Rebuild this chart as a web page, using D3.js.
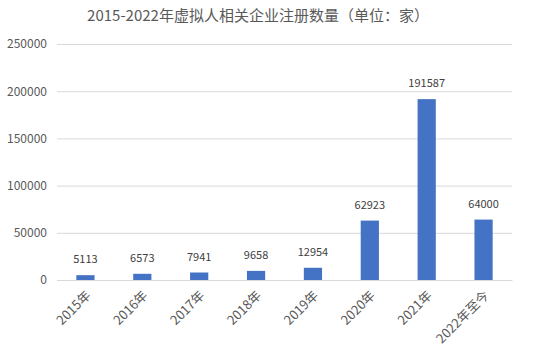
<!DOCTYPE html>
<html><head><meta charset="utf-8">
<script src="https://cdn.jsdelivr.net/npm/d3@7"></script>
<style>body{margin:0;background:#fff;} svg{display:block;}</style>
</head><body>
<script>
const title = "2015-2022年虚拟人相关企业注册数量（单位：家）";
const categories = ["2015年","2016年","2017年","2018年","2019年","2020年","2021年","2022年至今"];
const values = [5113,6573,7941,9658,12954,62923,191587,64000];
const yTicks = [0,50000,100000,150000,200000,250000];

const W=538,H=356;
const m={l:57,r:26,t:44,b:76};
const svg=d3.select("body").append("svg").attr("width",W).attr("height",H);
const font="'Noto Sans CJK SC','Noto Sans',sans-serif";
const x=d3.scaleBand().domain(categories).range([m.l,W-m.r]).paddingInner(0.68).paddingOuter(0.34);
const y=d3.scaleLinear().domain([0,250000]).range([H-m.b,m.t]);

svg.append("text").attr("x",258).attr("y",21).attr("text-anchor","middle")
  .attr("font-family",font).attr("font-size",15).attr("fill","#595959").text(title);

const ga=svg.append("g").attr("transform",`translate(${m.l},0)`)
  .call(d3.axisLeft(y).tickValues(yTicks).tickSize(-(W-m.l-m.r)).tickPadding(10).tickFormat(d3.format("d")));
ga.select(".domain").remove();
ga.selectAll("line").attr("stroke","#d9d9d9");
ga.selectAll("text").attr("font-family",font).attr("font-size",12).attr("fill","#595959");

svg.selectAll("rect.bar").data(values).join("rect").attr("class","bar")
  .attr("x",(d,i)=>x(categories[i])).attr("width",x.bandwidth())
  .attr("y",d=>y(d)).attr("height",d=>y(0)-y(d)).attr("fill","#4472c4");

svg.selectAll("text.lbl").data(values).join("text").attr("class","lbl")
  .attr("x",(d,i)=>x(categories[i])+x.bandwidth()/2).attr("y",d=>y(d)-12)
  .attr("text-anchor","middle").attr("font-family",font).attr("font-size",11).attr("fill","#404040")
  .text(d=>d);

const gx=svg.append("g").attr("transform",`translate(0,${y(0)})`)
  .call(d3.axisBottom(x).tickSize(0).tickPadding(8));
gx.select(".domain").attr("stroke","#d9d9d9");
gx.selectAll("text").attr("font-family",font).attr("font-size",13).attr("fill","#595959")
  .attr("text-anchor","end").attr("x",0).attr("y",0).attr("dy","0.35em")
  .attr("transform","translate(3,13) rotate(-45)");
</script>
</body></html>
